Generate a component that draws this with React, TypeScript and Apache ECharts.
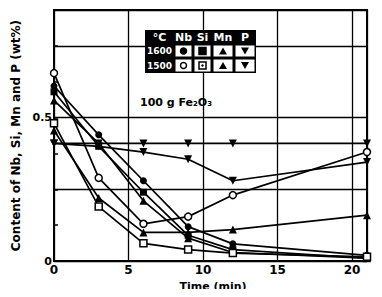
import React, { useEffect, useRef } from "react";
import * as echarts from "echarts";

const times = [0, 3, 6, 9, 12, 21];
const nb1600 = [0.61, 0.44, 0.28, 0.12, 0.06, 0.02];
const si1600 = [0.59, 0.4, 0.24, 0.09, 0.04, 0.01];
const mn1600 = [0.56, 0.41, 0.21, 0.08, 0.03, 0.01];
const p1600 = [0.41, 0.41, 0.41, 0.41, 0.41, 0.41];
const nb1500 = [0.655, 0.29, 0.13, 0.155, 0.23, 0.38];
const si1500 = [0.48, 0.19, 0.062, 0.04, 0.028, 0.015];
const mn1500 = [0.455, 0.22, 0.1, 0.1, 0.11, 0.16];
const p1500 = [0.41, 0.4, 0.38, 0.355, 0.28, 0.345];

const xTickLabels = ["0", "5", "10", "15", "20"];
const yTickLabels = ["0", "0.5"];

const DOWN = "path://M0,0 L10,0 L5,9 Z";

const FONT = "DejaVu Sans";

export default function App() {
  const ref = useRef<HTMLDivElement>(null);
  useEffect(() => {
    if (!ref.current) return;
    const chart = echarts.init(ref.current, undefined, { renderer: "svg" });
    const mk = (
      name: string,
      vals: number[],
      symbol: string,
      filled: boolean,
      size = 7
    ) => ({
      name,
      type: "line",
      data: times.map((t, i) => [t, vals[i]]),
      symbol,
      symbolSize: size,
      showAllSymbol: true,
      lineStyle: { color: "#000", width: 1.7 },
      itemStyle: {
        color: filled ? "#000" : "#fff",
        borderColor: "#000",
        borderWidth: filled ? 0 : 1.5,
      },
      z: 3,
    });

    // legend table geometry
    const tx = 145, ty = 30;
    const colW = [29, 19, 19, 22, 22];
    const rowH = [14, 14, 15];
    const colX: number[] = [];
    let acc = tx;
    colW.forEach((w) => { colX.push(acc); acc += w; });
    const tw = acc - tx;
    const rowY: number[] = [];
    let accy = ty;
    rowH.forEach((h) => { rowY.push(accy); accy += h; });
    const th = accy - ty;
    const headers = ["°C", "Nb", "Si", "Mn", "P"];
    const temps = ["1600", "1500"];
    const elems: any[] = [];
    elems.push({ type: "rect", shape: { x: tx, y: ty, width: tw, height: th }, style: { fill: "#000" }, z: 10 });
    for (let r = 1; r < 3; r++) {
      for (let c = 1; c < 5; c++) {
        elems.push({
          type: "rect",
          shape: { x: colX[c] + 1.5, y: rowY[r] + 1.5, width: colW[c] - 3, height: rowH[r] - 3 },
          style: { fill: "#fff" },
          z: 11,
        });
      }
    }
    headers.forEach((h, c) => {
      elems.push({
        type: "text",
        x: colX[c] + colW[c] / 2,
        y: rowY[0] + rowH[0] / 2,
        style: { text: h, fill: "#fff", font: `bold 11px ${FONT}`, align: "center", verticalAlign: "middle" },
        z: 12,
      });
    });
    temps.forEach((t, i) => {
      elems.push({
        type: "text",
        x: colX[0] + colW[0] / 2,
        y: rowY[i + 1] + rowH[i + 1] / 2,
        style: { text: t, fill: "#fff", font: `bold 9px ${FONT}`, align: "center", verticalAlign: "middle" },
        z: 12,
      });
    });
    for (let r = 1; r < 3; r++) {
      const cy = rowY[r] + rowH[r] / 2;
      const filled = r === 1;
      elems.push({
        type: "circle",
        shape: { cx: colX[1] + colW[1] / 2, cy, r: 3 },
        style: { fill: filled ? "#000" : "#fff", stroke: "#000", lineWidth: 1.5 },
        z: 12,
      });
      const sx = colX[2] + colW[2] / 2;
      elems.push({
        type: "rect",
        shape: { x: sx - 3.5, y: cy - 3.5, width: 7, height: 7 },
        style: { fill: filled ? "#000" : "#fff", stroke: "#000", lineWidth: 1.5 },
        z: 12,
      });
      if (!filled) {
        elems.push({ type: "circle", shape: { cx: sx, cy, r: 1.2 }, style: { fill: "#000" }, z: 13 });
      }
      const mx = colX[3] + colW[3] / 2;
      elems.push({
        type: "polygon",
        shape: { points: [[mx - 4, cy + 3.5], [mx + 4, cy + 3.5], [mx, cy - 3.5]] },
        style: { fill: "#000" },
        z: 12,
      });
      const px = colX[4] + colW[4] / 2;
      elems.push({
        type: "polygon",
        shape: { points: [[px - 4, cy - 3.5], [px + 4, cy - 3.5], [px, cy + 3.5]] },
        style: { fill: "#000" },
        z: 12,
      });
    }
    elems.push({
      type: "text",
      x: 140,
      y: 102,
      style: { text: "100 g Fe₂O₃", fill: "#000", font: `bold 11px ${FONT}`, align: "left", verticalAlign: "middle" },
      z: 12,
    });

    chart.setOption({
      animation: false,
      backgroundColor: "#fff",
      textStyle: { fontFamily: FONT },
      grid: {
        left: 54,
        right: 15,
        top: 10,
        bottom: 32,
        show: true,
        borderColor: "#000",
        borderWidth: 2,
        backgroundColor: "transparent",
      },
      xAxis: {
        type: "value",
        min: 0,
        max: 21,
        interval: 5,
        name: "Time (min)",
        nameLocation: "middle",
        nameGap: 17,
        nameTextStyle: { color: "#000", fontSize: 11, fontWeight: "bold", fontFamily: FONT, padding: [0, 0, 0, 5] },
        axisLine: { show: true, onZero: false, lineStyle: { color: "#000", width: 2 } },
        axisTick: { show: false },
        axisLabel: {
          color: "#000",
          fontSize: 12,
          fontWeight: "bold",
          fontFamily: FONT,
          margin: 3,
          showMaxLabel: false,
          formatter: (v: number) => (xTickLabels.includes(String(v)) ? String(v) : ""),
        },
        splitLine: { show: true, lineStyle: { color: "#000", width: 1.3 } },
      },
      yAxis: {
        type: "value",
        min: 0,
        max: 0.875,
        interval: 0.25,
        name: "Content of Nb, Si, Mn and P (wt%)",
        nameLocation: "middle",
        nameGap: 28,
        nameRotate: 90,
        nameTextStyle: { color: "#000", fontSize: 12, fontWeight: "bold", fontFamily: FONT },
        axisLine: { show: true, lineStyle: { color: "#000", width: 2 } },
        axisTick: { show: true, inside: true, length: 4, lineStyle: { color: "#000", width: 1.5 } },
        minorTick: { show: true, splitNumber: 2, length: 4, lineStyle: { color: "#000", width: 1.5 } },
        axisLabel: {
          color: "#000",
          fontSize: 11,
          fontWeight: "bold",
          fontFamily: FONT,
          margin: 2,
          showMaxLabel: false,
          formatter: (v: number) => {
            const s = v === 0 ? "0" : v === 0.5 ? "0.5" : "";
            return yTickLabels.includes(s) ? s : "";
          },
        },
        splitLine: { show: true, lineStyle: { color: "#000", width: 1.3 } },
      },
      series: [
        mk("Nb 1600", nb1600, "circle", true),
        mk("Si 1600", si1600, "rect", true),
        mk("Mn 1600", mn1600, "triangle", true, 8),
        mk("P 1600", p1600, DOWN, true, 8),
        mk("Nb 1500", nb1500, "circle", false),
        mk("Si 1500", si1500, "rect", false),
        mk("Mn 1500", mn1500, "triangle", true, 8),
        mk("P 1500", p1500, DOWN, true, 8),
      ],
      graphic: elems,
    });
    return () => chart.dispose();
  }, []);
  return <div ref={ref} style={{ width: 382, height: 297, margin: -8 }} />;
}
